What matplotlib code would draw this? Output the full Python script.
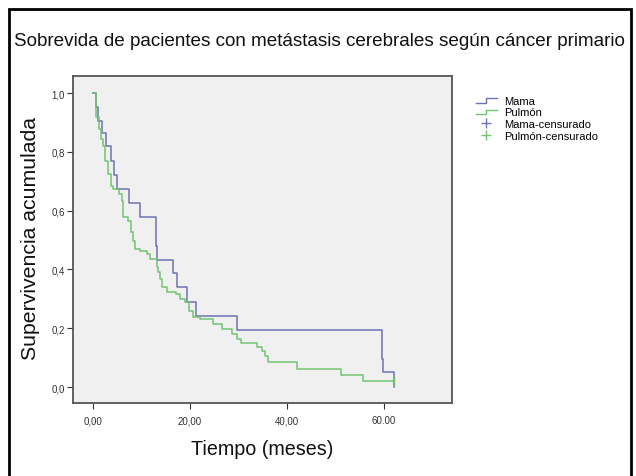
import matplotlib
matplotlib.use("Agg")
import matplotlib.pyplot as plt
from matplotlib.patches import Rectangle
from matplotlib.lines import Line2D
from matplotlib.legend_handler import HandlerBase

plt.rcParams['font.family'] = ['Liberation Sans', 'DejaVu Sans']

# ---- data ----
mama_t = [0.0, 0.6, 1.0, 1.9, 2.7, 3.7, 4.3, 4.95, 7.4, 9.7, 13.0, 13.2, 16.5, 17.3, 19.4, 21.2, 29.7, 59.6, 59.8, 62.1]
mama_s = [1.0, 0.952, 0.905, 0.864, 0.82, 0.77, 0.72, 0.673, 0.626, 0.578, 0.48, 0.432, 0.388, 0.34, 0.29, 0.242, 0.194, 0.095, 0.05, 0.0]

pulmon_t = [0.0, 0.6, 1.2, 1.6, 2.1, 2.5, 3.1, 3.7, 4.1, 5.4, 6.0, 6.2, 7.2, 7.8, 8.2, 8.7, 9.7, 11.1, 11.8,
            13.2, 13.4, 13.8, 14.2, 15.3, 17.1, 17.9, 19.0, 19.8, 20.6, 22.1, 24.7, 26.6, 28.7, 29.7, 30.5,
            33.8, 34.8, 35.5, 36.1, 42.1, 51.1, 55.7, 62.1]
pulmon_s = [1.0, 0.918, 0.877, 0.843, 0.82, 0.77, 0.724, 0.684, 0.673, 0.656, 0.633, 0.578, 0.565, 0.527, 0.497, 0.469, 0.463, 0.452, 0.435,
            0.41, 0.39, 0.367, 0.34, 0.323, 0.316, 0.30, 0.29, 0.26, 0.24, 0.231, 0.214, 0.197, 0.18, 0.163, 0.15,
            0.136, 0.122, 0.105, 0.085, 0.061, 0.041, 0.02, 0.02]

pulmon_cens_t = [62.1]
pulmon_cens_s = [0.02]

x_ticks = [0, 20, 40, 60]
x_tick_labels = ["0,00", "20,00", "40,00", "60.00"]
y_ticks = [0.0, 0.2, 0.4, 0.6, 0.8, 1.0]
y_tick_labels = ["0,0", "0,2", "0,4", "0,6", "0,8", "1,0"]

series_names = ["Mama", "Pulmón", "Mama-censurado", "Pulmón-censurado"]
blue = "#6f72b4"
green = "#72c472"

W, H = 636, 477
fig = plt.figure(figsize=(W / 100, H / 100), dpi=100)
fig.patch.set_facecolor("white")

# outer black frame
fig.patches.append(Rectangle((9 / W, -0.05), (631 - 9) / W, 1.05 - 10 / H,
                             transform=fig.transFigure, fill=False,
                             edgecolor="black", linewidth=2.0))

ax = fig.add_axes([73 / W, 1 - 404 / H, (452 - 73) / W, (404 - 77) / H])
ax.set_facecolor("#f0f0f0")

ax.step(mama_t, mama_s, where="post", color=blue, lw=1.1)
ax.step(pulmon_t, pulmon_s, where="post", color=green, lw=1.1)
ax.plot(pulmon_cens_t, pulmon_cens_s, marker="|", ms=7, color=green, ls="none")

ax.set_xlim(-4.1, 74)
ax.set_ylim(-0.054, 1.058)
ax.set_xticks(x_ticks)
ax.set_xticklabels(x_tick_labels)
ax.set_yticks(y_ticks)
ax.set_yticklabels(y_tick_labels)
ax.tick_params(axis="both", labelsize=7, length=4, width=0.8, colors="#333333", pad=2)
ax.tick_params(axis="x", pad=5)
for s in ax.spines.values():
    s.set_color("#555555")
    s.set_linewidth(1.3)

fig.text(0.5 * (10 + 628) / W, 1 - 42 / H,
         "Sobrevida de pacientes con metástasis cerebrales según cáncer primario",
         ha="center", va="center", fontsize=13.6, color="#111111")
fig.text(30 / W, 1 - 238 / H, "Supervivencia acumulada", rotation=90,
         ha="center", va="center", fontsize=15.3, color="#111111")
fig.text(262 / W, 1 - 450 / H, "Tiempo (meses)", ha="center", va="center",
         fontsize=14.2, color="#111111")


class StepHandler(HandlerBase):
    def __init__(self, color):
        super().__init__()
        self.color = color

    def create_artists(self, legend, orig_handle, xdescent, ydescent, width, height, fontsize, trans):
        xs = [0, width * 0.5, width * 0.5, width]
        ys = [0.1 * height, 0.1 * height, 0.7 * height, 0.7 * height]
        ln = Line2D([x - xdescent for x in xs], [y - ydescent for y in ys], color=self.color, lw=1.0, transform=trans)
        return [ln]


h1 = Line2D([], [], color=blue)
h2 = Line2D([], [], color=green)
h3 = Line2D([], [], color=blue, marker="+", ls="none", ms=7)
h4 = Line2D([], [], color=green, marker="+", ls="none", ms=7)
leg = fig.legend([h1, h2, h3, h4], series_names, loc="upper left",
                 bbox_to_anchor=(470 / W, 1 - 91 / H), frameon=False,
                 fontsize=8, handlelength=1.9, handletextpad=0.7, labelspacing=0.15,
                 borderpad=0, handler_map={h1: StepHandler(blue), h2: StepHandler(green)})

fig.savefig("out.png", dpi=100)
